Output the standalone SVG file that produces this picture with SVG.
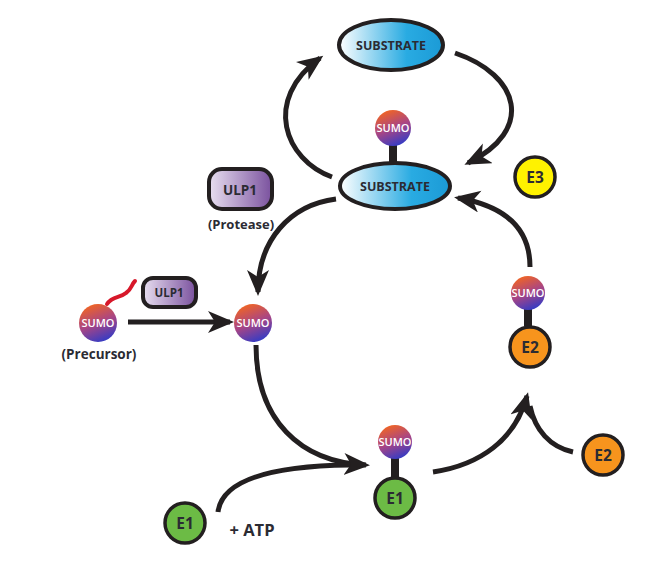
<svg xmlns="http://www.w3.org/2000/svg" width="660" height="562" viewBox="0 0 660 562">
<defs>
<linearGradient id="gSub" x1="0" y1="0" x2="1" y2="0"><stop offset="0" stop-color="#ffffff"/><stop offset="0.65" stop-color="#29abe2"/><stop offset="1" stop-color="#1b9ad6"/></linearGradient>
<linearGradient id="gSumo" x1="0.3" y1="0" x2="0.7" y2="1"><stop offset="0" stop-color="#f26522"/><stop offset="0.5" stop-color="#a84585"/><stop offset="1" stop-color="#2e3bc8"/></linearGradient>
<linearGradient id="gUlp" x1="0" y1="0" x2="1" y2="0"><stop offset="0" stop-color="#e8dff0"/><stop offset="1" stop-color="#7a519e"/></linearGradient>
<marker id="ah" markerUnits="userSpaceOnUse" markerWidth="28" markerHeight="24" refX="22" refY="11" orient="auto"><path d="M0,0 L26,11 L0,22 L7,11 Z" fill="#231f20"/></marker>
<style>
.sub{fill:url(#gSub);stroke:#231f20;stroke-width:4}
.sumo{fill:url(#gSumo)}
.st{font-family:"Open Sans","Liberation Sans",sans-serif;font-weight:600;fill:#fff;font-size:11px;text-anchor:middle}
.lbl{font-family:"Open Sans","Liberation Sans",sans-serif;font-weight:bold;fill:#2b2b33;text-anchor:middle}
.enz{stroke:#231f20;stroke-width:3.5}
.bar{fill:#231f20}
.ln{fill:none;stroke:#231f20;stroke-width:5}
.ulp{fill:url(#gUlp);stroke:#231f20;stroke-width:4}
</style>
</defs>
<g id="connectors">
<path class="ln" d="M332,177 C285,160 262,100 320,58" marker-end="url(#ah)"/>
<path class="ln" d="M455,53 C520,75 535,130 468,163" marker-end="url(#ah)"/>
<path class="ln" d="M336,199 C290,205 258,240 258,292" marker-end="url(#ah)"/>
<path class="ln" d="M128,322 L230,322" marker-end="url(#ah)"/>
<path class="ln" d="M256,345 C256,420 300,462 366,465" marker-end="url(#ah)"/>
<path class="ln" d="M218,512 C222,480 270,466 350,465"/>
<path class="ln" d="M433,472 C480,465 515,440 527,396" marker-end="url(#ah)"/>
<path class="ln" d="M573,452 C550,447 535,430 530,406"/>
<path class="ln" d="M530,267 C530,225 500,205 458,198" marker-end="url(#ah)"/>
</g>
<g id="substrate-top">
<ellipse class="sub" cx="391" cy="45" rx="52" ry="25"/>
<text class="lbl" x="391" y="50" font-size="12.5">SUBSTRATE</text>
</g>
<g id="substrate-sumo">
<rect class="bar" x="389" y="144" width="8" height="20"/>
<circle class="sumo" cx="393" cy="128" r="18"/>
<text class="st" x="393" y="132">SUMO</text>
<ellipse class="sub" cx="395" cy="186" rx="55" ry="23"/>
<text class="lbl" x="395" y="191" font-size="12.5">SUBSTRATE</text>
</g>
<g id="e3">
<circle class="enz" cx="535" cy="177" r="20" fill="#fff200"/>
<text class="lbl" x="535" y="183" font-size="15.5">E3</text>
</g>
<g id="ulp1-protease">
<rect class="ulp" x="209" y="169" width="63" height="40" rx="13"/>
<text class="lbl" x="240" y="194.5" font-size="13.5">ULP1</text>
<text class="lbl" x="241" y="229" font-size="13" fill="#414042">(Protease)</text>
</g>
<g id="precursor">
<path d="M107,304 C112,296 120,298 126,293 C132,289 131,285 135,281" fill="none" stroke="#d7182a" stroke-width="4" stroke-linecap="round"/>
<circle class="sumo" cx="98" cy="323" r="19"/>
<text class="st" x="98" y="327">SUMO</text>
<text class="lbl" x="99" y="359" font-size="13.5" fill="#414042">(Precursor)</text>
</g>
<g id="ulp1-small">
<rect class="ulp" x="143" y="278" width="53" height="29" rx="10"/>
<text class="lbl" x="169" y="297" font-size="11.5">ULP1</text>
</g>
<g id="sumo-free">
<circle class="sumo" cx="253" cy="323" r="19"/>
<text class="st" x="253" y="327">SUMO</text>
</g>
<g id="e1-sumo">
<rect class="bar" x="391" y="455" width="8" height="24"/>
<circle class="sumo" cx="395" cy="442" r="17"/>
<text class="st" x="395" y="446">SUMO</text>
<circle class="enz" cx="395" cy="498" r="20" fill="#6cbb45"/>
<text class="lbl" x="395" y="504" font-size="15.5">E1</text>
</g>
<g id="e1-free">
<circle class="enz" cx="185" cy="523" r="20" fill="#6cbb45"/>
<text class="lbl" x="185" y="529" font-size="15.5">E1</text>
<text class="lbl" x="252" y="536" font-size="16.5">+ ATP</text>
</g>
<g id="e2-sumo">
<rect class="bar" x="524" y="306" width="8" height="20"/>
<circle class="sumo" cx="528" cy="293" r="17"/>
<text class="st" x="528" y="297">SUMO</text>
<circle class="enz" cx="530" cy="347" r="20" fill="#f7941d"/>
<text class="lbl" x="530" y="353" font-size="15.5">E2</text>
</g>
<g id="e2-free">
<circle class="enz" cx="603" cy="455" r="20" fill="#f7941d"/>
<text class="lbl" x="603" y="461" font-size="15.5">E2</text>
</g>
</svg>
